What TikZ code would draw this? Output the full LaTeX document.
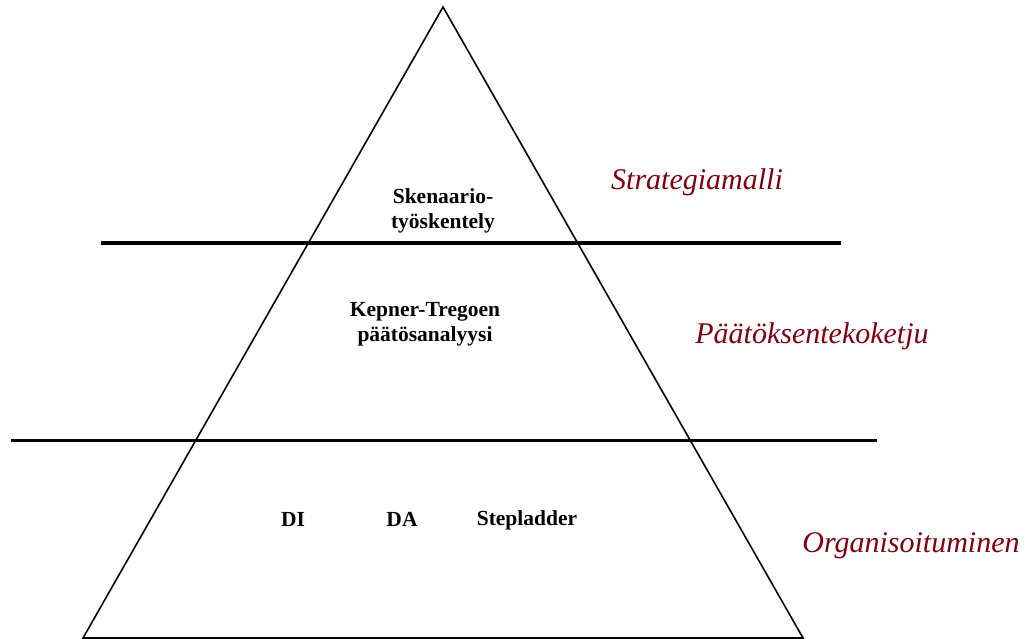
\documentclass[tikz,border=0pt]{standalone}
\usepackage{fontspec}
\setmainfont{Liberation Serif}
\definecolor{labelred}{RGB}{128,0,16}
\begin{document}
\begin{tikzpicture}[x=1pt,y=-1pt,
  tri/.style={draw=black,line width=1.6pt,line join=miter},
  sep/.style={draw=black,line width=3pt},
  inner/.style={font=\fontsize{21.5}{25}\selectfont\bfseries,align=center,inner sep=0pt},
  level/.style={font=\fontsize{30}{34}\selectfont\itshape,text=labelred,inner sep=0pt}]
\useasboundingbox (0,0) rectangle (1028,639);
\coordinate (apex) at (443,7);
\coordinate (bl) at (83,638);
\coordinate (br) at (803,638);
\draw[tri] (apex) -- (bl) -- (br) -- cycle;
\coordinate (l1a) at (101,243);
\coordinate (l1b) at (841,243);
\coordinate (l2a) at (11,440);
\coordinate (l2b) at (877,440);
\draw[sep] (l1a) -- (l1b);
\draw[sep] (l2a) -- (l2b);
\node[inner] (sk) at (443,211) {Skenaario-\\työskentely};
\node[inner] (kt) at (425,324) {Kepner-Tregoen\\päätösanalyysi};
\node[inner] (di) at (293,519) {DI};
\node[inner] (da) at (402,519) {DA};
\node[inner] (st) at (527,520) {Stepladder};
\node[level] (s1) at (697,182) {Strategiamalli};
\node[level] (s2) at (812,336) {Päätöksentekoketju};
\node[level] (s3) at (911,546) {Organisoituminen};
\end{tikzpicture}
\end{document}
